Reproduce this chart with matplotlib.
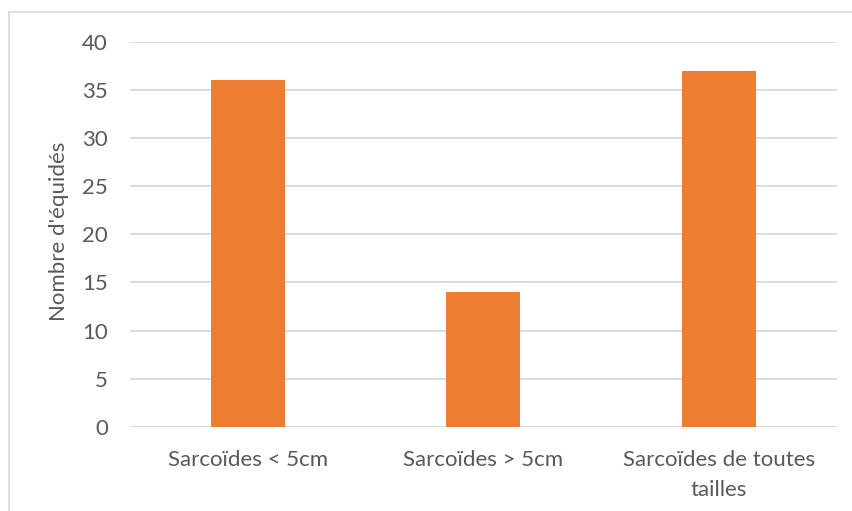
import numpy as np
import matplotlib.pyplot as plt
from matplotlib.lines import Line2D

categories = ["Sarcoïdes < 5cm", "Sarcoïdes > 5cm", "Sarcoïdes de toutes\ntailles"]
values = [36, 14, 37]
yticks = [0, 5, 10, 15, 20, 25, 30, 35, 40]

plt.rcParams['font.family'] = ['Lato', 'DejaVu Sans']
txt = '#595959'
fs = 16

fig = plt.figure(figsize=(8.52, 5.11), dpi=100)
ax = fig.add_axes([130 / 852, 1 - 426.7 / 511, (836.7 - 130) / 852, (426.7 - 42) / 511])

x = np.arange(len(categories))
ax.bar(x, values, width=0.315, color='#ED7D31', zorder=3)

ax.set_xlim(-0.5, len(categories) - 0.5)
ax.set_ylim(0, 40)
ax.set_yticks(yticks)
ax.set_xticks(x)
ax.set_xticklabels(categories, fontsize=fs, color=txt, linespacing=1.6)
ax.tick_params(axis='y', labelsize=fs, labelcolor=txt, length=0, pad=16)
ax.tick_params(axis='x', length=0, pad=17)
ax.yaxis.grid(True, color='#d9d9d9', linewidth=1.3, zorder=0)
for s in ax.spines.values():
    s.set_visible(False)
ax.axhline(0, color='#d9d9d9', linewidth=1.3, zorder=2)

fig.text(59 / 852, 1 - 231 / 511, "Nombre d'équidés", fontsize=fs, color=txt,
         rotation=90, ha='center', va='center')

# chart frame (top and left edges visible)
fig.add_artist(Line2D([9 / 852, 1], [1 - 12 / 511, 1 - 12 / 511], color='#d9d9d9', linewidth=1.2))
fig.add_artist(Line2D([9 / 852, 9 / 852], [0, 1 - 12 / 511], color='#d9d9d9', linewidth=1.2))

fig.savefig('out.png', dpi=100)
